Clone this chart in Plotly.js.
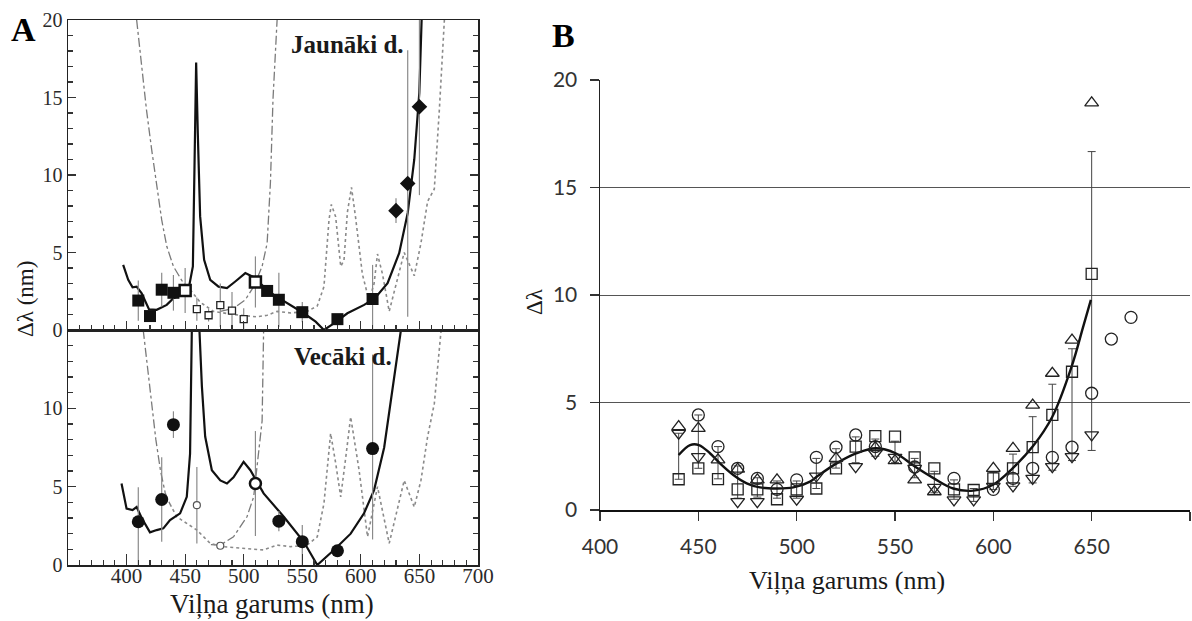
<!DOCTYPE html>
<html><head><meta charset="utf-8">
<script src="https://cdn.plot.ly/plotly-3.0.1.min.js"></script>
<style>html,body{margin:0;padding:0;background:#fff}#chart{width:1192px;height:621px}</style>
</head><body><div id="chart"></div><script>
// ---------- Panel A, top (Jaunāki d.) ----------
const jFilledX = [410, 420, 430, 440, 520, 530, 550, 580, 610];
const jFilledY = [1.9, 0.9, 2.6, 2.4, 2.52, 1.95, 1.15, 0.7, 2.0];
const jFilledErr = [1.3, 0, 1.1, 1.15, 0, 1.75, 0.65, 0, 2.2];
const jOpenBigX = [450, 510];
const jOpenBigY = [2.55, 3.1];
const jOpenBigErr = [1.45, 1.65];
const jOpenSmallX = [460, 470, 480, 490, 500];
const jOpenSmallY = [1.35, 0.95, 1.6, 1.25, 0.7];
const jOpenSmallErr = [0.75, 0.4, 1.4, 1.2, 0.7];
const jDiamondX = [630, 640, 650];
const jDiamondY = [7.7, 9.45, 14.4];
const jDiamondErr = [0.8, 8.6, 5.7];
const jSolidX = [397.1,401.4,405.1,408.6,412.9,419.1,425.7,434.3,440,447.1,452.8,456.6,458,459.4,460.8,462.8,466.2,471.4,478.5,485.7,492.8,501.4,508.5,517,525.6,537.1,551.3,561.4,568.5,577,588.5,602.8,612,622.8,632.7,640,645.6,649.9,651.9];
const jSolidY = [4.2,3.24,2.76,2.8,2.37,1.34,1.3,1.62,2.05,2.27,2.59,4.1,10.6,17.26,12.7,7.33,4.53,3.24,2.8,2.7,3.13,3.67,3.41,2.8,2.27,1.73,1.08,0.54,0,0.43,1.08,1.62,2.05,3.02,4.96,7.55,11.0,15.3,20.06];
const jDashDotX = [408.6,412.9,417,421.4,425.7,430,434.3,440,447.1,453.7,null,480,491.3,501.4,508.5,515.7,520,522.8,525,528.5];
const jDashDotY = [20,17.0,14.2,11.65,9.3,7.1,5.4,4.1,3.2,2.6,null,1.2,1.4,1.95,2.8,4.1,5.6,9.5,14.9,20];
const jDotX = [454.3,462.8,474.2,491.3,511.4,520,528.5,540,554.2,562.8,568.5,572.8,574.8,578.5,582.8,585.6,588.5,592,595.6,601.3,607,611.3,614.2,618.5,624.2,629.9,637,645.6,651.3,657,662.7,667,671.3];
const jDotY = [2.6,1.8,1.2,1.0,0.85,0.95,1.2,1.1,1.2,1.55,2.8,7.1,8.1,7.3,4.1,4.5,7.6,9.2,7.2,3.6,1.9,3.0,4.9,3.6,1.2,2.9,5.0,3.5,5.6,8.3,9.1,14.2,20];

// ---------- Panel A, bottom (Vecāki d.) ----------
const vFilledX = [410, 430, 440, 530, 550, 580, 610];
const vFilledY = [2.76, 4.18, 8.96, 2.8, 1.49, 0.91, 7.43];
const vFilledErrPlus = [2.2, 2.7, 0.85, 0.65, 1.06, 0, 6.0];
const vFilledErrMinus = [2.76, 2.7, 0.85, 0.65, 1.49, 0, 5.8];
const vOpenSmallX = [460, 480];
const vOpenSmallY = [3.82, 1.23];
const vOpenSmallErr = [2.44, 0];
const vOpenBigX = [510];
const vOpenBigY = [5.2];
const vOpenBigErr = [3.35];
const vSolidX = [395.7,400,405.1,408.6,412.9,420,425.7,431.4,437.1,445.7,451.4,454.2,455.7,457,461,462.2,464.3,467.1,472.8,480,485.7,491.3,499.9,505.7,517,534.2,551.3,562.8,577,591.3,602.7,611.3,619.9,627.1,634.2];
const vSolidY = [5.2,3.6,3.5,3.7,3.0,2.08,2.23,2.34,2.87,3.3,4.35,7.1,15,20,20,15,11.4,8.2,6.05,5.4,5.2,5.6,6.58,6.05,4.57,3.08,1.48,0,0.96,2.0,3.3,4.78,7.5,11.4,15];
const vDashDotX = [414.2,417.1,420,425,429,433,437,null,472,480,491.3,502.8,508.5,512.8,515.7,517];
const vDashDotY = [15,13.1,11,8,6,4.6,3.9,null,1.3,1.27,1.8,3.08,4.35,7.1,9.2,15];
const vDotX = [437,442.8,460,471.4,482.8,500,517,528.5,540,554.2,562.8,568.5,574.2,578.5,582.8,587,591.3,598.5,605.7,614.2,624.2,637,645.6,651.3,657,662.7,668.5];
const vDotY = [3.9,3.08,2.23,1.38,1.17,1.06,0.96,1.27,1.17,1.27,1.8,3.93,8.4,6.5,4.35,6.8,9.45,6.05,1.8,5.0,1.38,5.4,3.7,5.4,8.2,10.3,15];

// ---------- Panel B ----------
const bWl = [440,450,460,470,480,490,500,510,520,530,540,550,560,570,580,590,600,610,620,630,640,650,660,670];
const bCircle = [null,4.42,2.95,1.94,1.47,0.96,1.40,2.45,2.92,3.49,2.95,null,2.0,null,1.47,null,0.96,1.47,1.94,2.45,2.92,5.43,7.95,8.96];
const bSquare = [1.43,1.94,1.44,0.96,0.96,0.5,0.96,1.0,1.94,2.95,3.44,3.41,2.45,1.94,0.96,0.93,1.47,1.94,2.92,4.42,6.43,10.98,null,null];
const bTriUp = [3.88,3.8,2.33,1.9,1.4,1.4,null,null,2.4,null,2.9,2.3,1.4,0.85,null,null,1.94,2.87,4.88,6.36,7.9,18.94,null,null];
const bTriDown = [3.57,2.48,null,0.39,0.39,null,0.5,1.58,null,2.02,2.64,2.45,1.94,1.05,0.47,0.47,1.1,1.12,1.47,2.02,2.48,3.49,null,null];
const bErrX = [440,450,460,470,480,490,500,510,520,530,540,550,560,570,580,590,600,610,620,630,640,650];
const bMean = [2.5,3.18,2.2,1.3,1.05,0.95,0.95,1.7,2.4,2.8,2.9,2.7,1.95,1.3,0.95,0.7,1.35,1.85,2.8,3.85,4.9,9.72];
const bSd = [1.07,1.24,0.75,0.75,0.45,0.4,0.4,0.7,0.45,0.6,0.4,0.5,0.45,0.5,0.45,0.3,0.4,0.75,1.54,2.0,2.6,6.95];
const bCurveX = [440,445.8,450.3,455.9,461,467.8,474.6,481.3,489.8,498.3,506.8,510.2,520.3,530.5,540.2,550.3,560.1,569.8,579.6,589.8,599.6,609.8,620,630,639.8,645.7,649.6];
const bCurveY = [2.56,3.02,3.02,2.64,2.17,1.63,1.24,1.05,1.0,1.05,1.32,1.55,2.17,2.64,2.87,2.64,2.02,1.47,1.0,0.9,1.16,1.94,2.95,4.34,6.67,8.53,9.77];

const xTicksA = [400,450,500,550,600,650,700];
const yTicksTop = [0,5,10,15,20];
const yTicksBot = [0,5,10];
const xTicksB = [400,450,500,550,600,650,700];
const yTicksB = [0,5,10,15,20];

const W = 1192, H = 621;
const px = v => v / W, py = v => 1 - v / H;
const serif = 'Liberation Serif, Times New Roman, serif';
const ERRA = {color:'#8a8a8a', thickness:1.2, width:0};

function errA(arr, minus){ const o = Object.assign({type:'data', array:arr, visible:true}, ERRA); if(minus){o.symmetric=false;o.arrayminus=minus;} return o; }

const traces = [
  {x:jDashDotX, y:jDashDotY, xaxis:'x2', yaxis:'y2', mode:'lines', line:{color:'#7a7a7a', width:1.3, dash:'dashdot'}, connectgaps:false},
  {x:jDotX, y:jDotY, xaxis:'x2', yaxis:'y2', mode:'lines', line:{color:'#8a8a8a', width:1.6, dash:'dot'}},
  {x:jSolidX, y:jSolidY, xaxis:'x2', yaxis:'y2', mode:'lines', line:{color:'#111', width:2.2}},
  {x:jOpenSmallX, y:jOpenSmallY, xaxis:'x2', yaxis:'y2', mode:'markers', error_y:errA(jOpenSmallErr), marker:{symbol:'square', size:7, color:'#fff', line:{color:'#222', width:1.3}}},
  {x:jFilledX, y:jFilledY, xaxis:'x2', yaxis:'y2', mode:'markers', error_y:errA(jFilledErr), marker:{symbol:'square', size:12, color:'#111', line:{width:0}}},
  {x:jOpenBigX, y:jOpenBigY, xaxis:'x2', yaxis:'y2', mode:'markers', error_y:errA(jOpenBigErr), marker:{symbol:'square', size:11, color:'#fff', line:{color:'#111', width:2.5}}},
  {x:jDiamondX, y:jDiamondY, xaxis:'x2', yaxis:'y2', mode:'markers', error_y:errA(jDiamondErr), marker:{symbol:'diamond', size:12, color:'#111', line:{width:0}}},
  {x:vDashDotX, y:vDashDotY, xaxis:'x', yaxis:'y', mode:'lines', line:{color:'#7a7a7a', width:1.3, dash:'dashdot'}, connectgaps:false},
  {x:vDotX, y:vDotY, xaxis:'x', yaxis:'y', mode:'lines', line:{color:'#8a8a8a', width:1.6, dash:'dot'}},
  {x:vSolidX, y:vSolidY, xaxis:'x', yaxis:'y', mode:'lines', line:{color:'#111', width:2.2}},
  {x:vOpenSmallX, y:vOpenSmallY, xaxis:'x', yaxis:'y', mode:'markers', error_y:errA(vOpenSmallErr), marker:{symbol:'circle', size:7, color:'#fff', line:{color:'#555', width:1.2}}},
  {x:vFilledX, y:vFilledY, xaxis:'x', yaxis:'y', mode:'markers', error_y:errA(vFilledErrPlus, vFilledErrMinus), marker:{symbol:'circle', size:13, color:'#111', line:{width:0}}},
  {x:vOpenBigX, y:vOpenBigY, xaxis:'x', yaxis:'y', mode:'markers', error_y:errA(vOpenBigErr), marker:{symbol:'circle', size:11, color:'#fff', line:{color:'#111', width:2.5}}},
  {x:bErrX, y:bMean, xaxis:'x3', yaxis:'y3', mode:'markers', marker:{size:1, color:'rgba(0,0,0,0)'}, error_y:{type:'data', array:bSd, visible:true, color:'#444', thickness:1, width:4}},
  {x:bCurveX, y:bCurveY, xaxis:'x3', yaxis:'y3', mode:'lines', line:{color:'#111', width:2.4, shape:'spline', smoothing:1}},
  {x:bWl, y:bCircle, xaxis:'x3', yaxis:'y3', mode:'markers', marker:{symbol:'circle-open', size:12, color:'#222', line:{width:1.3}}},
  {x:bWl, y:bSquare, xaxis:'x3', yaxis:'y3', mode:'markers', marker:{symbol:'square-open', size:11, color:'#222', line:{width:1.3}}},
  {x:bWl, y:bTriUp, xaxis:'x3', yaxis:'y3', mode:'markers', marker:{symbol:'triangle-up-open', size:12, color:'#222', line:{width:1.3}}},
  {x:bWl, y:bTriDown, xaxis:'x3', yaxis:'y3', mode:'markers', marker:{symbol:'triangle-down-open', size:12, color:'#222', line:{width:1.3}}}
];

const axA = {showgrid:false, zeroline:false, showline:true, linecolor:'#222', linewidth:1.5, ticks:'inside', tickcolor:'#333', tickwidth:1.2, tickfont:{family:serif, size:20, color:'#2a2a2a'}};
const domAx = [px(68), px(478)];

function ann(text, x, y, size, extra){ return Object.assign({text:text, xref:'paper', yref:'paper', x:px(x), y:py(y), xanchor:'center', yanchor:'middle', showarrow:false, font:{family:serif, size:size, color:'#1a1a1a'}}, extra||{}); }

const layout = {
  width:W, height:H, margin:{l:0,r:0,t:0,b:0}, paper_bgcolor:'#fff', plot_bgcolor:'rgba(0,0,0,0)', showlegend:false,
  xaxis: Object.assign({}, axA, {domain:domAx, anchor:'y', range:[350,700], tickmode:'array', tickvals:xTicksA, ticklen:11, mirror:true, ticklabelstandoff:-9, minor:{ticks:'inside', dtick:10, tick0:350, ticklen:5, tickcolor:'#333'}, tickfont:{family:serif, size:21, color:'#2a2a2a'}}),
  yaxis: Object.assign({}, axA, {domain:[py(565), py(330)], anchor:'x', range:[0,15], tickmode:'array', tickvals:yTicksBot, ticklen:8, mirror:'ticks', minor:{ticks:'inside', dtick:1, ticklen:5, tickcolor:'#333'}}),
  xaxis2: Object.assign({}, axA, {domain:domAx, anchor:'y2', range:[350,700], tickmode:'array', tickvals:xTicksA, ticklen:9, mirror:true, showticklabels:false, minor:{ticks:'inside', dtick:10, tick0:350, ticklen:5, tickcolor:'#333'}}),
  yaxis2: Object.assign({}, axA, {domain:[py(330), py(20)], anchor:'x2', range:[0,20], tickmode:'array', tickvals:yTicksTop, ticklen:8, mirror:'ticks', minor:{ticks:'inside', dtick:1, ticklen:5, tickcolor:'#333'}}),
  xaxis3: {domain:[px(600), px(1190)], anchor:'y3', range:[400,700], tickmode:'array', tickvals:xTicksB, showgrid:false, zeroline:false, showline:true, linecolor:'#111', linewidth:2, ticks:'outside', ticklen:9, tickwidth:1.2, tickcolor:'#333', ticklabelstandoff:8, tickfont:{family:'Lato, Open Sans, sans-serif', size:21, color:'#333'}},
  yaxis3: {domain:[py(510), py(80)], anchor:'x3', range:[0,20], tickmode:'array', tickvals:yTicksB, showgrid:true, gridcolor:'#555', gridwidth:1, zeroline:false, showline:true, linecolor:'#222', linewidth:1.5, ticks:'outside', ticklen:9, tickwidth:1.2, tickcolor:'#333', ticklabelstandoff:8, tickfont:{family:'Lato, Open Sans, sans-serif', size:21, color:'#333'}},
  annotations: [
    ann('<b>A</b>', 23, 30, 34, {font:{family:serif, size:34, color:'#000'}}),
    ann('<b>B</b>', 563, 35, 34, {font:{family:serif, size:34, color:'#000'}}),
    ann('<b>Jaunāki d.</b>', 347, 45, 25),
    ann('<b>Vecāki d.</b>', 343, 356, 25),
    ann('Δλ (nm)', 26, 299, 23, {textangle:-90}),
    ann('Viļņa garums (nm)', 272, 604, 27),
    ann('Δλ', 535, 302, 23, {textangle:-90}),
    ann('Viļņa garums (nm)', 847, 580, 26)
  ]
};

Plotly.newPlot('chart', traces, layout, {displayModeBar:false, staticPlot:true});
</script></body></html>
